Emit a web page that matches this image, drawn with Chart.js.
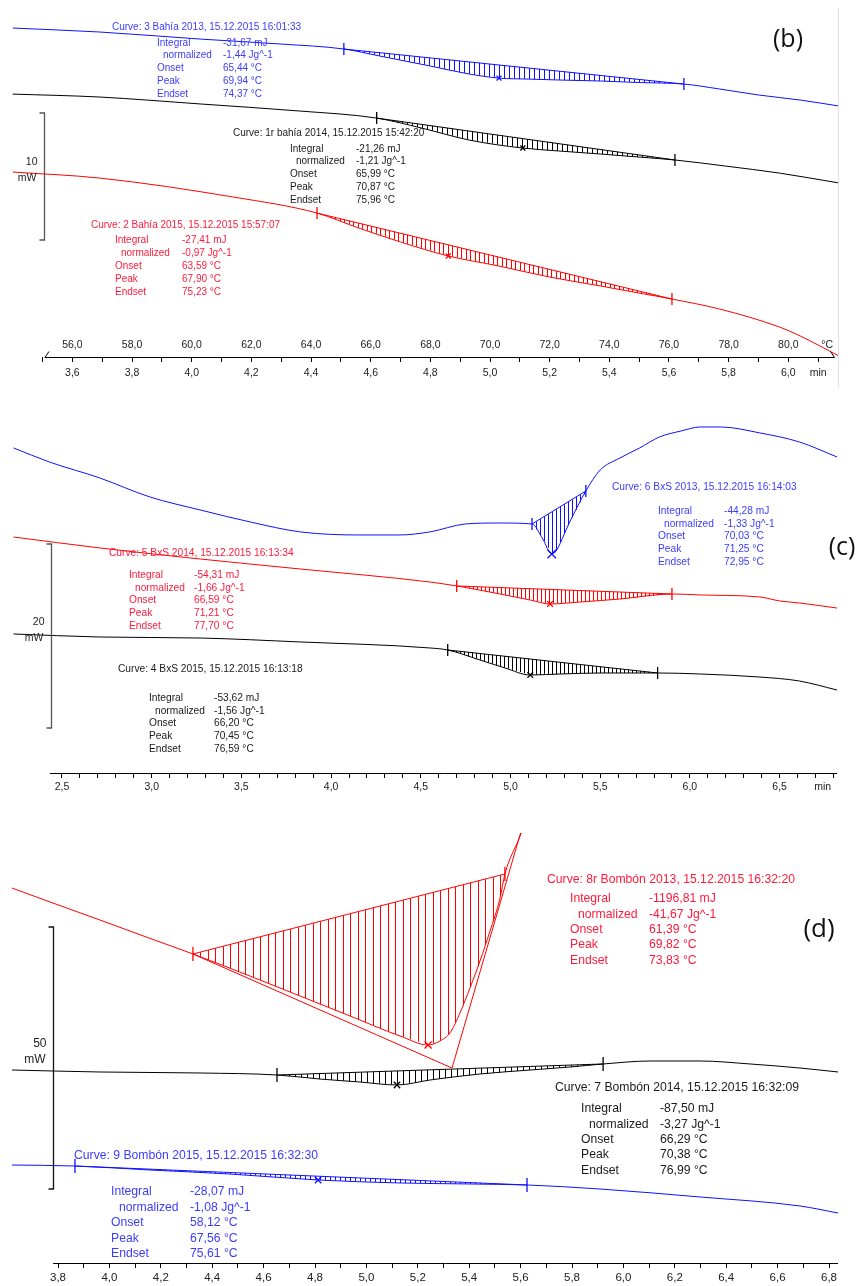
<!DOCTYPE html>
<html>
<head>
<meta charset="utf-8">
<title>DSC curves (b) (c) (d)</title>
<script src="https://cdn.jsdelivr.net/npm/chart.js@4.4.1/dist/chart.umd.min.js"></script>
<style>
  html, body { margin: 0; padding: 0; background: #fff; }
  body { position: relative; width: 863px; height: 1286px; overflow: hidden; }
  .panel { position: absolute; left: 0; width: 863px; }
</style>
</head>
<body>
<div class="panel" style="top:0;height:392px"><canvas id="chart-b"></canvas></div>
<div class="panel" style="top:392px;height:441px"><canvas id="chart-c"></canvas></div>
<div class="panel" style="top:833px;height:453px"><canvas id="chart-d"></canvas></div>
<script>
// time in min, heat flow in mW (the instrument stacks the curves with an offset)

// ---- panel (b): Bahía ----
const bBlueTime = [3.40, 3.69, 4.03, 4.30, 4.51, 4.63, 4.80, 4.93, 5.03, 5.13, 5.23, 5.37, 5.50, 5.65, 5.77, 5.90, 6.04, 6.17];
const bBlueFlow = [24.33, 24.02, 23.46, 23.07, 22.68, 22.13, 21.34, 20.71, 20.39, 20.31, 20.24, 20.16, 20.04, 19.92, 19.53, 19.06, 18.66, 18.19];
const bBlueEvents = [[4.51, 22.68], [5.03, 20.39], [5.65, 19.92]]; // onset, peak, endset

const bBlackTime = [3.40, 3.69, 4.03, 4.36, 4.62, 4.77, 4.93, 5.11, 5.23, 5.37, 5.50, 5.62, 5.79, 5.97, 6.17];
const bBlackFlow = [19.13, 18.90, 18.35, 17.80, 17.24, 16.46, 15.51, 14.88, 14.65, 14.41, 14.17, 13.94, 13.46, 12.91, 12.13];
const bBlackEvents = [[4.62, 17.24], [5.11, 14.88], [5.62, 13.94]];

const bRedTime = [3.40, 3.69, 4.14, 4.42, 4.56, 4.70, 4.86, 5.03, 5.20, 5.37, 5.50, 5.61, 5.77, 5.97, 6.04, 6.17];
const bRedFlow = [12.99, 12.52, 11.02, 9.76, 8.58, 7.48, 6.38, 5.59, 4.72, 4.02, 3.46, 2.99, 2.20, 0.79, 0.08, -1.50];
const bRedEvents = [[4.42, 9.76], [4.86, 6.38], [5.61, 2.99]];

const bTimeLabelValues = [3.6, 3.8, 4.0, 4.2, 4.4, 4.6, 4.8, 5.0, 5.2, 5.4, 5.6, 5.8, 6.0, 6.1];
const bTimeLabelTexts = ['3,6', '3,8', '4,0', '4,2', '4,4', '4,6', '4,8', '5,0', '5,2', '5,4', '5,6', '5,8', '6,0', 'min'];
const bTempLabelValues = [56, 58, 60, 62, 64, 66, 68, 70, 72, 74, 76, 78, 80, 81.3];
const bTempLabelTexts = ['56,0', '58,0', '60,0', '62,0', '64,0', '66,0', '68,0', '70,0', '72,0', '74,0', '76,0', '78,0', '80,0', '°C'];

const bBlueTitle = 'Curve: 3 Bahía 2013, 15.12.2015 16:01:33';
const bBlueInfo = ['-31,67 mJ', '-1,44 Jg^-1', '65,44 °C', '69,94 °C', '74,37 °C'];
const bBlackTitle = 'Curve: 1r bahía 2014, 15.12.2015 15:42:20';
const bBlackInfo = ['-21,26 mJ', '-1,21 Jg^-1', '65,99 °C', '70,87 °C', '75,96 °C'];
const bRedTitle = 'Curve: 2 Bahía 2015, 15.12.2015 15:57:07';
const bRedInfo = ['-27,41 mJ', '-0,97 Jg^-1', '63,59 °C', '67,90 °C', '75,23 °C'];

// ---- panel (c): BxS ----
const cBlueTime = [2.23, 2.43, 2.71, 2.99, 3.27, 3.55, 3.83, 4.16, 4.38, 4.55, 4.75, 4.94, 5.12, 5.18, 5.23, 5.25, 5.33, 5.42, 5.50, 5.61, 5.72, 5.83, 5.95, 6.06, 6.17, 6.39, 6.61, 6.82];
const cBlueFlow = [35.33, 33.80, 32.07, 30.00, 28.59, 27.28, 26.20, 25.87, 25.87, 26.20, 27.07, 27.17, 27.07, 25.43, 23.80, 24.02, 27.28, 30.65, 32.93, 34.24, 35.33, 36.52, 37.17, 37.61, 37.61, 36.96, 35.98, 34.35];
const cBlueEvents = [[5.12, 27.07], [5.23, 23.80], [5.42, 30.65]];

const cRedTime = [2.23, 2.71, 3.27, 3.83, 4.55, 4.70, 4.94, 5.11, 5.22, 5.39, 5.61, 5.90, 6.06, 6.39, 6.50, 6.61, 6.82];
const cRedFlow = [25.65, 24.46, 23.26, 22.17, 20.76, 20.33, 19.46, 18.80, 18.37, 18.59, 18.91, 19.46, 19.35, 19.13, 18.70, 18.48, 17.93];
const cRedEvents = [[4.70, 20.33], [5.22, 18.37], [5.90, 19.46]];

const cBlackTime = [2.23, 2.71, 3.27, 3.83, 4.55, 4.65, 4.83, 4.97, 5.11, 5.28, 5.50, 5.82, 6.06, 6.39, 6.61, 6.82];
const cBlackFlow = [15.11, 14.78, 14.67, 14.24, 13.59, 13.37, 12.28, 11.41, 10.65, 10.76, 10.87, 10.87, 10.76, 10.43, 10.00, 9.02];
const cBlackEvents = [[4.65, 13.37], [5.11, 10.65], [5.82, 10.87]];

const cTimeLabelValues = [2.5, 3.0, 3.5, 4.0, 4.5, 5.0, 5.5, 6.0, 6.5, 6.74];
const cTimeLabelTexts = ['2,5', '3,0', '3,5', '4,0', '4,5', '5,0', '5,5', '6,0', '6,5', 'min'];

const cBlueTitle = 'Curve: 6 BxS 2013, 15.12.2015 16:14:03';
const cBlueInfo = ['-44,28 mJ', '-1,33 Jg^-1', '70,03 °C', '71,25 °C', '72,95 °C'];
const cRedTitle = 'Curve: 5 BxS 2014, 15.12.2015 16:13:34';
const cRedInfo = ['-54,31 mJ', '-1,66 Jg^-1', '66,59 °C', '71,21 °C', '77,70 °C'];
const cBlackTitle = 'Curve: 4 BxS 2015, 15.12.2015 16:13:18';
const cBlackInfo = ['-53,62 mJ', '-1,56 Jg^-1', '66,20 °C', '70,45 °C', '76,59 °C'];

// ---- panel (d): Bombón ----
const dRedTime = [3.621, 3.769, 3.963, 4.158, 4.325, 4.547, 4.742, 4.936, 5.131, 5.240, 5.286, 5.325, 5.364, 5.403, 5.442, 5.481, 5.520, 5.539, 5.598, 5.617];
const dRedFlow = [71.56, 68.89, 65.46, 61.95, 58.97, 54.77, 50.95, 47.14, 43.32, 41.60, 42.37, 43.89, 47.71, 52.48, 57.63, 63.36, 69.66, 74.24, 81.49, 84.16];
const dRedEvents = [[4.325, 58.97], [5.240, 41.60], [5.539, 74.24]];
const dRedTangentTime = [4.325, 5.333, 5.617];
const dRedTangentFlow = [58.97, 37.21, 84.92];

const dBlackTime = [3.621, 3.963, 4.353, 4.652, 4.819, 4.975, 5.119, 5.247, 5.442, 5.637, 5.792, 5.921, 6.104, 6.298, 6.493, 6.687, 6.835];
const dBlackFlow = [36.83, 36.45, 36.26, 35.88, 35.11, 34.54, 33.97, 34.92, 36.07, 36.83, 37.40, 37.98, 38.55, 38.55, 37.98, 37.21, 36.45];
const dBlackEvents = [[4.652, 35.88], [5.119, 33.97], [5.921, 37.98]];

const dBlueTime = [3.621, 3.866, 4.158, 4.469, 4.812, 5.131, 5.403, 5.625, 5.909, 6.298, 6.687, 6.835];
const dBlueFlow = [18.70, 18.51, 17.75, 16.98, 15.84, 15.27, 15.08, 14.89, 14.12, 12.60, 10.88, 9.54];
const dBlueEvents = [[3.866, 18.51], [4.812, 15.84], [5.625, 14.89]];

const dTimeLabelValues = [3.8, 4.0, 4.2, 4.4, 4.6, 4.8, 5.0, 5.2, 5.4, 5.6, 5.8, 6.0, 6.2, 6.4, 6.6, 6.8];
const dTimeLabelTexts = ['3,8', '4,0', '4,2', '4,4', '4,6', '4,8', '5,0', '5,2', '5,4', '5,6', '5,8', '6,0', '6,2', '6,4', '6,6', '6,8'];

const dRedTitle = 'Curve: 8r Bombón 2013, 15.12.2015 16:32:20';
const dRedInfo = ['-1196,81 mJ', '-41,67 Jg^-1', '61,39 °C', '69,82 °C', '73,83 °C'];
const dBlackTitle = 'Curve: 7 Bombón 2014, 15.12.2015 16:32:09';
const dBlackInfo = ['-87,50 mJ', '-3,27 Jg^-1', '66,29 °C', '70,38 °C', '76,99 °C'];
const dBlueTitle = 'Curve: 9 Bombón 2015, 15.12.2015 16:32:30';
const dBlueInfo = ['-28,07 mJ', '-1,08 Jg^-1', '58,12 °C', '67,56 °C', '75,61 °C'];

const rowNames = ['Integral', 'normalized', 'Onset', 'Peak', 'Endset'];

const BLUE = '#1010ff', RED = '#ff0000', BLACK = '#000000';
const BLUE_TEXT = '#3c3cff', RED_TEXT = '#ff1a3a', BLACK_TEXT = '#1a1a1a';
const FONT = '"Liberation Sans", Arial, sans-serif';

function points(times, flows) {
  return times.map((t, i) => ({x: t, y: flows[i]}));
}

function flowAt(times, flows, t) {
  for (let i = 1; i < times.length; i++) {
    if (t <= times[i]) {
      const f = (t - times[i - 1]) / (times[i] - times[i - 1]);
      return flows[i - 1] + f * (flows[i] - flows[i - 1]);
    }
  }
  return flows[flows.length - 1];
}

function curveSet(times, flows, color, clip) {
  const ds = {
    data: points(times, flows), borderColor: color, borderWidth: 1, pointRadius: 0,
    cubicInterpolationMode: 'monotone', xAxisID: 'x', yAxisID: 'y'
  };
  if (clip !== undefined) ds.clip = clip;
  return ds;
}

function baselineSet(events, color) {
  const on = events[0], end = events[2];
  return {
    data: [{x: on[0], y: on[1]}, {x: end[0], y: end[1]}],
    borderColor: color, borderWidth: 1, pointRadius: 0, xAxisID: 'x', yAxisID: 'y'
  };
}

function markerSet(events, color, r, peakR) {
  return {
    data: events.map(e => ({x: e[0], y: e[1]})), showLine: false,
    borderColor: color, backgroundColor: color, borderWidth: 1.3,
    pointStyle: ['line', 'crossRot', 'line'], rotation: [90, 0, 90],
    pointRadius: [r, peakR, r], xAxisID: 'x', yAxisID: 'y'
  };
}

function sameValue(a, b) { return Math.abs(a - b) < 1e-6; }

// bottom axis with 0.1 min minor ticks and labelled major ticks
function timeAxis(c) {
  const minor = [];
  for (let k = Math.round(c.minorFrom * 10); k <= Math.round(c.minorTo * 10); k++) minor.push(k / 10);
  const all = minor.slice();
  c.values.forEach(v => { if (!all.some(m => sameValue(m, v))) all.push(v); });
  all.sort((a, b) => a - b);
  return {
    type: 'linear', position: 'bottom', weight: 1, min: c.min, max: c.max,
    afterBuildTicks: s => { s.ticks = all.map(v => ({value: v})); },
    afterFit: s => { s.height = c.height; },
    border: {display: false},
    grid: {
      display: true, drawOnChartArea: false, drawTicks: true, tickLength: 5, tickWidth: 1,
      tickColor: ctx => (ctx.tick && minor.some(m => sameValue(m, ctx.tick.value))) ? '#000' : 'rgba(0,0,0,0)'
    },
    ticks: {
      autoSkip: false, maxRotation: 0, minRotation: 0, padding: c.padding, color: '#222',
      font: {family: FONT, size: c.size},
      callback: v => {
        const i = c.values.findIndex(x => sameValue(x, v));
        return i < 0 ? '' : c.texts[i];
      }
    }
  };
}

const dscPlugin = {
  id: 'dsc',
  beforeDatasetsDraw(chart, args, opts) {
    const {ctx, chartArea: a} = chart;
    const xs = chart.scales.x, ys = chart.scales.y;
    ctx.save();
    ctx.beginPath();
    ctx.rect(a.left, a.top, a.right - a.left, a.bottom - a.top);
    ctx.clip();
    ctx.lineWidth = 1;
    (opts.hatches || []).forEach(h => {
      const on = h.events[0], end = h.events[2];
      const x0 = xs.getPixelForValue(on[0]), x1 = xs.getPixelForValue(end[0]);
      ctx.strokeStyle = h.color;
      ctx.beginPath();
      for (let px = x0 + h.gap; px < x1 - 1; px += h.gap) {
        const t = xs.getValueForPixel(px);
        const base = on[1] + (t - on[0]) / (end[0] - on[0]) * (end[1] - on[1]);
        const cur = flowAt(h.times, h.flows, t);
        const xx = Math.round(px) + 0.5;
        ctx.moveTo(xx, ys.getPixelForValue(base));
        ctx.lineTo(xx, ys.getPixelForValue(cur));
      }
      ctx.stroke();
    });
    ctx.restore();
  },
  afterDraw(chart, args, opts) {
    const ctx = chart.ctx;
    const xs = chart.scales.x, ys = chart.scales.y;
    ctx.save();

    // time axis line
    if (opts.axisLine) {
      const yy = Math.round(xs.top) + 0.5;
      const xa = xs.getPixelForValue(opts.axisLine[0]), xb = xs.getPixelForValue(opts.axisLine[1]);
      ctx.strokeStyle = '#000';
      ctx.lineWidth = 1;
      ctx.beginPath();
      ctx.moveTo(xa, yy);
      ctx.lineTo(xb, yy);
      if (opts.axisEnds) {
        ctx.moveTo(xa, yy);
        ctx.lineTo(xa + 4, yy - 6);
        ctx.moveTo(xb, yy);
        ctx.lineTo(xb - 4, yy - 6);
      }
      ctx.stroke();
    }

    // scale bar
    if (opts.scaleBar) {
      const s = opts.scaleBar;
      const bx = Math.round(xs.getPixelForValue(s.t)) + 0.5;
      const yt = ys.getPixelForValue(s.to), yb = ys.getPixelForValue(s.from);
      ctx.strokeStyle = s.color;
      ctx.lineWidth = 1.3;
      ctx.beginPath();
      ctx.moveTo(bx - 5, yt);
      ctx.lineTo(bx, yt);
      ctx.lineTo(bx, yb);
      ctx.lineTo(bx - 5, yb);
      ctx.stroke();
      const mid = (yt + yb) / 2;
      ctx.fillStyle = '#222';
      ctx.font = s.size + 'px ' + FONT;
      ctx.textAlign = 'right';
      ctx.textBaseline = 'middle';
      ctx.fillText(s.value, bx - 7, mid - 14);
      ctx.fillText(s.unit, bx - 8, mid + 2);
    }

    // curve information blocks
    (opts.blocks || []).forEach(b => {
      ctx.fillStyle = b.color;
      ctx.font = b.size + 'px ' + FONT;
      ctx.textAlign = 'left';
      ctx.textBaseline = 'middle';
      ctx.fillText(b.title, b.x, b.y);
      rowNames.forEach((name, i) => {
        const yy = b.rowY + i * b.step;
        ctx.fillText(name, b.labelX + (i === 1 ? b.indent : 0), yy);
        ctx.fillText(b.values[i], b.valueX, yy);
      });
    });

    // panel letter
    if (opts.letter) {
      ctx.fillStyle = '#111';
      ctx.font = opts.letter.size + 'px "Open Sans", "Noto Sans", sans-serif';
      ctx.textAlign = 'center';
      ctx.textBaseline = 'middle';
      ctx.fillText(opts.letter.text, opts.letter.x, opts.letter.y);
    }

    // light frame edge
    if (opts.frame) {
      ctx.strokeStyle = opts.frame.color;
      ctx.lineWidth = 1;
      ctx.beginPath();
      ctx.moveTo(opts.frame.x + 0.5, opts.frame.y0);
      ctx.lineTo(opts.frame.x + 0.5, opts.frame.y1);
      ctx.stroke();
    }
    ctx.restore();
  }
};

function makeChart(id, datasets, scales, dsc) {
  return new Chart(document.getElementById(id), {
    type: 'line',
    data: {datasets: datasets},
    options: {
      responsive: true,
      maintainAspectRatio: false,
      animation: false,
      devicePixelRatio: 1,
      events: [],
      layout: {autoPadding: false, padding: {left: 12, right: 25, top: 0, bottom: 0}},
      plugins: {legend: {display: false}, tooltip: {enabled: false}, dsc: dsc},
      scales: scales
    },
    plugins: [dscPlugin]
  });
}

// ---------- (b) ----------
const bMin = 3.3975, bMax = 6.1666;
const tempAt = t => 56 + (t - 3.6) * 10; // 10 K/min, 56 °C at 3.6 min
makeChart('chart-b', [
  curveSet(bBlueTime, bBlueFlow, BLUE),
  baselineSet(bBlueEvents, BLUE),
  markerSet(bBlueEvents, BLUE, 6, 3.5),
  curveSet(bBlackTime, bBlackFlow, BLACK),
  baselineSet(bBlackEvents, BLACK),
  markerSet(bBlackEvents, BLACK, 6, 3.5),
  curveSet(bRedTime, bRedFlow, RED, false),
  baselineSet(bRedEvents, RED),
  markerSet(bRedEvents, RED, 6, 3.5)
], {
  x: timeAxis({min: bMin, max: bMax, minorFrom: 3.5, minorTo: 6.1, values: bTimeLabelValues,
    texts: bTimeLabelTexts, height: 35, padding: 5, size: 10.5}),
  x2: {
    type: 'linear', position: 'bottom', weight: 0, min: tempAt(bMin), max: tempAt(bMax),
    afterBuildTicks: s => { s.ticks = bTempLabelValues.map(v => ({value: v})); },
    afterFit: s => { s.height = 20; },
    border: {display: false},
    grid: {display: false, drawTicks: false},
    ticks: {
      autoSkip: false, maxRotation: 0, minRotation: 0, padding: 2, color: '#222',
      font: {family: FONT, size: 10.5},
      callback: v => {
        const i = bTempLabelValues.findIndex(x => sameValue(x, v));
        return i < 0 ? '' : bTempLabelTexts[i];
      }
    }
  },
  y: {type: 'linear', display: false, min: 0, max: 26.54}
}, {
  hatches: [
    {times: bBlueTime, flows: bBlueFlow, events: bBlueEvents, color: BLUE, gap: 5},
    {times: bBlackTime, flows: bBlackFlow, events: bBlackEvents, color: BLACK, gap: 5},
    {times: bRedTime, flows: bRedFlow, events: bRedEvents, color: RED, gap: 4.5}
  ],
  axisLine: [3.508, 6.155],
  axisEnds: true,
  scaleBar: {t: 3.505, from: 7.64, to: 17.64, value: '10', unit: 'mW', size: 10.5, color: '#555'},
  blocks: [
    {title: bBlueTitle, values: bBlueInfo, color: BLUE_TEXT, size: 10, x: 112, y: 27, labelX: 157, valueX: 223, indent: 6, rowY: 43, step: 12.7},
    {title: bBlackTitle, values: bBlackInfo, color: BLACK_TEXT, size: 10, x: 233, y: 133, labelX: 290, valueX: 356, indent: 6, rowY: 149, step: 12.7},
    {title: bRedTitle, values: bRedInfo, color: RED_TEXT, size: 10, x: 91, y: 225, labelX: 115, valueX: 182, indent: 6, rowY: 240, step: 13}
  ],
  letter: {text: '(b)', x: 788, y: 40, size: 25},
  frame: {x: 838, y0: 8, y1: 388, color: '#e2e2e2'}
});

// ---------- (c) ----------
makeChart('chart-c', [
  curveSet(cBlueTime, cBlueFlow, BLUE),
  baselineSet(cBlueEvents, BLUE),
  markerSet(cBlueEvents, BLUE, 6, 6),
  curveSet(cRedTime, cRedFlow, RED),
  baselineSet(cRedEvents, RED),
  markerSet(cRedEvents, RED, 6, 4),
  curveSet(cBlackTime, cBlackFlow, BLACK),
  baselineSet(cBlackEvents, BLACK),
  markerSet(cBlackEvents, BLACK, 6, 4)
], {
  x: timeAxis({min: 2.2213, max: 6.8255, minorFrom: 2.5, minorTo: 6.8, values: cTimeLabelValues,
    texts: cTimeLabelTexts, height: 60, padding: 3, size: 10.5}),
  y: {type: 'linear', display: false, min: 0, max: 41.41}
}, {
  hatches: [
    {times: cBlueTime, flows: cBlueFlow, events: cBlueEvents, color: BLUE, gap: 4},
    {times: cRedTime, flows: cRedFlow, events: cRedEvents, color: RED, gap: 4},
    {times: cBlackTime, flows: cBlackFlow, events: cBlackEvents, color: BLACK, gap: 4}
  ],
  axisLine: [2.433, 6.82],
  scaleBar: {t: 2.439, from: 4.89, to: 24.89, value: '20', unit: 'mW', size: 10.5, color: '#555'},
  blocks: [
    {title: cRedTitle, values: cRedInfo, color: RED_TEXT, size: 10.2, x: 109, y: 161, labelX: 129, valueX: 194, indent: 6, rowY: 183, step: 12.75},
    {title: cBlackTitle, values: cBlackInfo, color: BLACK_TEXT, size: 10.2, x: 118, y: 277, labelX: 149, valueX: 214, indent: 6, rowY: 306, step: 12.75},
    {title: cBlueTitle, values: cBlueInfo, color: BLUE_TEXT, size: 10.2, x: 612, y: 95, labelX: 658, valueX: 724, indent: 6, rowY: 119, step: 12.75}
  ],
  letter: {text: '(c)', x: 842, y: 156, size: 25}
});

// ---------- (d) ----------
makeChart('chart-d', [
  curveSet(dRedTime, dRedFlow, RED),
  baselineSet(dRedEvents, RED),
  {data: points(dRedTangentTime, dRedTangentFlow), borderColor: RED, borderWidth: 1, pointRadius: 0, xAxisID: 'x', yAxisID: 'y'},
  markerSet(dRedEvents, RED, 7, 5),
  curveSet(dBlackTime, dBlackFlow, BLACK),
  baselineSet(dBlackEvents, BLACK),
  markerSet(dBlackEvents, BLACK, 7, 4.5),
  curveSet(dBlueTime, dBlueFlow, BLUE),
  baselineSet(dBlueEvents, BLUE),
  markerSet(dBlueEvents, BLUE, 7, 4.5)
], {
  x: timeAxis({min: 3.621, max: 6.835, minorFrom: 3.8, minorTo: 6.8, values: dTimeLabelValues,
    texts: dTimeLabelTexts, height: 23, padding: 3, size: 11.5}),
  y: {type: 'linear', display: false, min: 0, max: 82.06}
}, {
  hatches: [
    {times: dRedTime, flows: dRedFlow, events: dRedEvents, color: RED, gap: 7.5},
    {times: dBlackTime, flows: dBlackFlow, events: dBlackEvents, color: BLACK, gap: 6},
    {times: dBlueTime, flows: dBlueFlow, events: dBlueEvents, color: BLUE, gap: 5}
  ],
  axisLine: [3.781, 6.835],
  scaleBar: {t: 3.781, from: 14.12, to: 64.12, value: '50', unit: 'mW', size: 12, color: '#111'},
  blocks: [
    {title: dRedTitle, values: dRedInfo, color: RED_TEXT, size: 12.2, x: 547, y: 47, labelX: 570, valueX: 649, indent: 8, rowY: 66, step: 15.3},
    {title: dBlackTitle, values: dBlackInfo, color: BLACK_TEXT, size: 12.2, x: 555, y: 255, labelX: 581, valueX: 660, indent: 8, rowY: 276, step: 15.3},
    {title: dBlueTitle, values: dBlueInfo, color: BLUE_TEXT, size: 12.2, x: 74, y: 323, labelX: 111, valueX: 190, indent: 8, rowY: 359, step: 15.5}
  ],
  letter: {text: '(d)', x: 819, y: 97, size: 26}
});
</script>
</body>
</html>
